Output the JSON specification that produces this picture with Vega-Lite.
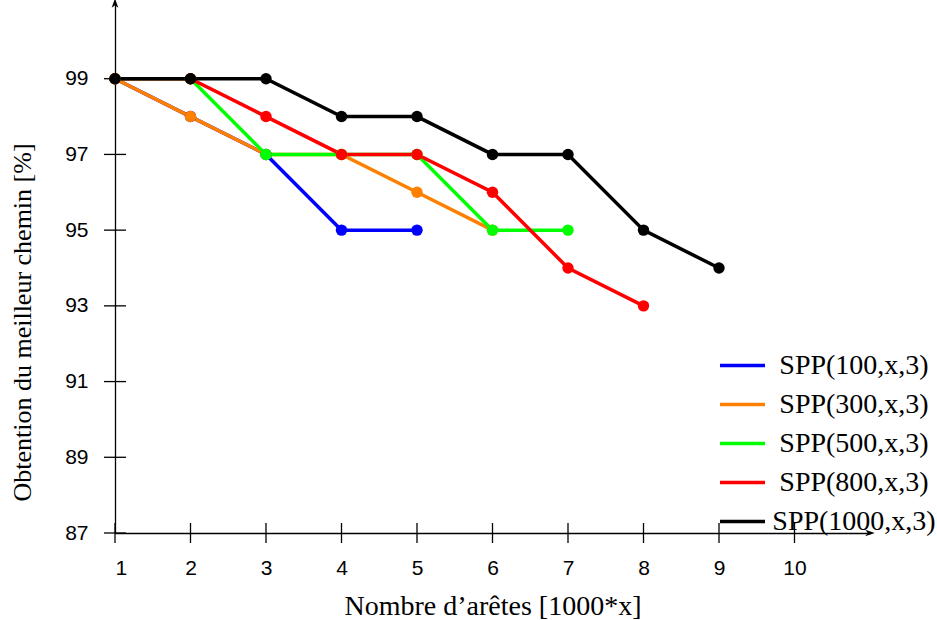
{
  "$schema": "https://vega.github.io/schema/vega-lite/v6.json",
  "width": 755,
  "height": 530,
  "autosize": {"type": "none"},
  "padding": {"left": 115, "top": 3, "right": 67, "bottom": 87},
  "background": "white",
  "config": {
    "view": {"stroke": null},
    "axis": {
      "grid": false,
      "domainColor": "black",
      "domainWidth": 1.3,
      "ticks": false,
      "tickSize": 0,
      "labelFont": "Liberation Sans",
      "labelFontSize": 21,
      "labelColor": "black",
      "titleFont": "Liberation Serif",
      "titleFontSize": 28,
      "titleFontWeight": "normal",
      "titleColor": "black"
    }
  },
  "datasets": {
    "main": [
      {"series": "SPP(100,x,3)", "x": 1, "y": 99},
      {"series": "SPP(100,x,3)", "x": 2, "y": 98},
      {"series": "SPP(100,x,3)", "x": 3, "y": 97},
      {"series": "SPP(100,x,3)", "x": 4, "y": 95},
      {"series": "SPP(100,x,3)", "x": 5, "y": 95},
      {"series": "SPP(300,x,3)", "x": 1, "y": 99},
      {"series": "SPP(300,x,3)", "x": 2, "y": 98},
      {"series": "SPP(300,x,3)", "x": 3, "y": 97},
      {"series": "SPP(300,x,3)", "x": 4, "y": 97},
      {"series": "SPP(300,x,3)", "x": 5, "y": 96},
      {"series": "SPP(300,x,3)", "x": 6, "y": 95},
      {"series": "SPP(500,x,3)", "x": 1, "y": 99},
      {"series": "SPP(500,x,3)", "x": 2, "y": 99},
      {"series": "SPP(500,x,3)", "x": 3, "y": 97},
      {"series": "SPP(500,x,3)", "x": 4, "y": 97},
      {"series": "SPP(500,x,3)", "x": 5, "y": 97},
      {"series": "SPP(500,x,3)", "x": 6, "y": 95},
      {"series": "SPP(500,x,3)", "x": 7, "y": 95},
      {"series": "SPP(800,x,3)", "x": 1, "y": 99},
      {"series": "SPP(800,x,3)", "x": 2, "y": 99},
      {"series": "SPP(800,x,3)", "x": 3, "y": 98},
      {"series": "SPP(800,x,3)", "x": 4, "y": 97},
      {"series": "SPP(800,x,3)", "x": 5, "y": 97},
      {"series": "SPP(800,x,3)", "x": 6, "y": 96},
      {"series": "SPP(800,x,3)", "x": 7, "y": 94},
      {"series": "SPP(800,x,3)", "x": 8, "y": 93},
      {"series": "SPP(1000,x,3)", "x": 1, "y": 99},
      {"series": "SPP(1000,x,3)", "x": 2, "y": 99},
      {"series": "SPP(1000,x,3)", "x": 3, "y": 99},
      {"series": "SPP(1000,x,3)", "x": 4, "y": 98},
      {"series": "SPP(1000,x,3)", "x": 5, "y": 98},
      {"series": "SPP(1000,x,3)", "x": 6, "y": 97},
      {"series": "SPP(1000,x,3)", "x": 7, "y": 97},
      {"series": "SPP(1000,x,3)", "x": 8, "y": 95},
      {"series": "SPP(1000,x,3)", "x": 9, "y": 94}
    ],
    "yticks": [
      {"x": 1, "y": 87}, {"x": 1, "y": 89}, {"x": 1, "y": 91}, {"x": 1, "y": 93},
      {"x": 1, "y": 95}, {"x": 1, "y": 97}, {"x": 1, "y": 99}
    ],
    "xticks": [
      {"x": 1, "y": 87}, {"x": 2, "y": 87}, {"x": 3, "y": 87}, {"x": 4, "y": 87}, {"x": 5, "y": 87},
      {"x": 6, "y": 87}, {"x": 7, "y": 87}, {"x": 8, "y": 87}, {"x": 9, "y": 87}, {"x": 10, "y": 87}
    ],
    "uparrow": [{"x": 1, "y": 101}],
    "rightarrow": [{"x": 11, "y": 87}]
  },
  "layer": [
    {
      "data": {"name": "main"},
      "mark": {"type": "line", "strokeWidth": 3.5},
      "encoding": {
        "x": {
          "field": "x", "type": "quantitative",
          "scale": {"domain": [1, 11], "nice": false, "zero": false},
          "axis": {"values": [1, 2, 3, 4, 5, 6, 7, 8, 9, 10], "format": "d", "labelPadding": 24, "title": "Nombre d’arêtes [1000*x]", "titlePadding": 14}
        },
        "y": {
          "field": "y", "type": "quantitative",
          "scale": {"domain": [87, 101], "nice": false, "zero": false},
          "axis": {"values": [87, 89, 91, 93, 95, 97, 99], "format": "d", "labelPadding": 27, "title": "Obtention du meilleur chemin [%]", "titleFontSize": 26, "titlePadding": 29, "titleY": 319}
        },
        "color": {
          "field": "series", "type": "nominal",
          "scale": {
            "domain": ["SPP(100,x,3)", "SPP(300,x,3)", "SPP(500,x,3)", "SPP(800,x,3)", "SPP(1000,x,3)"],
            "range": ["#0000ff", "#ff8000", "#00ff00", "#ff0000", "#000000"]
          },
          "legend": {
            "title": null,
            "orient": "none",
            "legendX": 603,
            "legendY": 338,
            "padding": 0,
            "symbolType": "stroke",
            "symbolSize": 2025,
            "symbolStrokeWidth": 3.5,
            "labelFont": "Liberation Serif",
            "labelFontSize": 28,
            "labelColor": "black",
            "labelAlign": "center",
            "labelOffset": 87,
            "labelLimit": 0,
            "rowPadding": -12
          }
        }
      }
    },
    {
      "data": {"name": "main"},
      "mark": {"type": "circle", "size": 130, "opacity": 1},
      "encoding": {
        "x": {"field": "x", "type": "quantitative"},
        "y": {"field": "y", "type": "quantitative"},
        "color": {"field": "series", "type": "nominal", "legend": null}
      }
    },
    {
      "data": {"name": "yticks"},
      "mark": {"type": "tick", "orient": "horizontal", "size": 22, "thickness": 1.3, "color": "black", "opacity": 1},
      "encoding": {
        "x": {"field": "x", "type": "quantitative"},
        "y": {"field": "y", "type": "quantitative"}
      }
    },
    {
      "data": {"name": "xticks"},
      "mark": {"type": "tick", "orient": "vertical", "size": 20, "thickness": 1.3, "color": "black", "opacity": 1},
      "encoding": {
        "x": {"field": "x", "type": "quantitative"},
        "y": {"field": "y", "type": "quantitative"}
      }
    },
    {
      "data": {"name": "uparrow"},
      "mark": {"type": "point", "shape": "M0,-1L0.7,1L0,0.45L-0.7,1Z", "filled": true, "color": "black", "size": 90, "opacity": 1},
      "encoding": {
        "x": {"field": "x", "type": "quantitative"},
        "y": {"field": "y", "type": "quantitative"}
      }
    },
    {
      "data": {"name": "rightarrow"},
      "mark": {"type": "point", "shape": "M0,-1L0.7,1L0,0.45L-0.7,1Z", "angle": 90, "filled": true, "color": "black", "size": 90, "opacity": 1},
      "encoding": {
        "x": {"field": "x", "type": "quantitative"},
        "y": {"field": "y", "type": "quantitative"}
      }
    }
  ]
}
